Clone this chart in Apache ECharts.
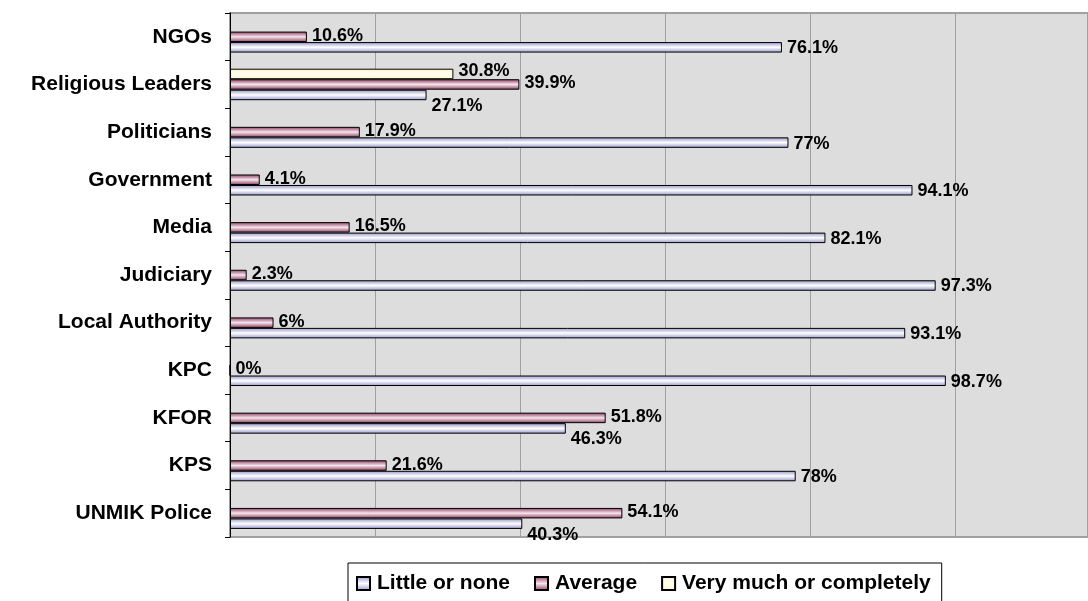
<!DOCTYPE html>
<html>
<head>
<meta charset="utf-8">
<script src="https://cdn.jsdelivr.net/npm/echarts@6/dist/echarts.min.js"></script>
<style>
  html, body { margin: 0; padding: 0; background: #fff; }
  #chart { width: 1088px; height: 601px; }
</style>
</head>
<body>
<div id="chart"></div>
<script>
// categories, top to bottom
var categories = ['NGOs', 'Religious Leaders', 'Politicians', 'Government', 'Media',
  'Judiciary', 'Local Authority', 'KPC', 'KFOR', 'KPS', 'UNMIK Police'];

var littleOrNone = [76.1, 27.1, 77, 94.1, 82.1, 97.3, 93.1, 98.7, 46.3, 78, 40.3];
var average = [10.6, 39.9, 17.9, 4.1, 16.5, 2.3, 6, 0, 51.8, 21.6, 54.1];
var veryMuch = [null, 30.8, null, null, null, null, null, null, null, null, null];

var seriesNames = ['Little or none', 'Average', 'Very much or completely'];

var FONT = 'Liberation Sans, Arial, sans-serif';

function stripe(edge, mid) {
  return new echarts.graphic.LinearGradient(0, 0, 0, 1, [
    {offset: 0, color: edge},
    {offset: 0.5, color: mid},
    {offset: 1, color: edge}
  ]);
}

function barSeries(name, data, fill, layout) {
  return {
    name: name,
    type: 'bar',
    data: data,
    barWidth: 10.5,
    barGap: '0%',
    itemStyle: {
      color: fill,
      borderColor: '#000',
      borderWidth: 1
    },
    label: {
      show: true,
      position: 'right',
      distance: 5,
      color: '#000',
      fontWeight: 'bold',
      fontSize: 18,
      fontFamily: FONT,
      formatter: function (p) { return p.value + '%'; }
    },
    labelLayout: layout
  };
}

var chart = echarts.init(document.getElementById('chart'));

var option = {
  animation: false,
  grid: {
    top: 13,
    bottom: 64,
    left: 230,
    right: 0,
    show: true,
    backgroundColor: '#DDDDDD',
    borderColor: '#A0A0A0',
    borderWidth: 2
  },
  legend: {
    data: seriesNames,
    left: 348,
    top: 563,
    orient: 'horizontal',
    icon: 'rect',
    itemWidth: 13,
    itemHeight: 13,
    itemGap: 24,
    padding: [10, 11, 20, 8],
    borderColor: '#000',
    borderWidth: 1,
    textStyle: {
      color: '#000',
      fontWeight: 'bold',
      fontSize: 21,
      fontFamily: FONT,
      padding: [0, 0, 0, 2]
    }
  },
  xAxis: {
    type: 'value',
    min: 0,
    max: 118.3,   // the plot is cut at the right edge of the picture
    interval: 20,
    axisLine: { show: false },
    axisTick: { show: false },
    axisLabel: { show: false },
    splitLine: { lineStyle: { color: '#A0A0A0', width: 1 } }
  },
  yAxis: {
    type: 'category',
    data: categories,
    inverse: true,
    axisLine: { lineStyle: { color: '#000', width: 1 } },
    axisTick: { show: true, length: 5, lineStyle: { color: '#000' } },
    axisLabel: {
      color: '#000',
      fontWeight: 'bold',
      fontSize: 21,
      fontFamily: FONT,
      margin: 18
    }
  },
  series: [
    barSeries(seriesNames[2], veryMuch, stripe('#FFF4C8', '#FFFFF2'), function () {
      return { dy: -3 };
    }),
    barSeries(seriesNames[1], average, stripe('#8C3A5E', '#F6E6EC'), function () {
      return { dy: -1 };
    }),
    // push the label down when the Average bar above is longer, like the original
    barSeries(seriesNames[0], littleOrNone, stripe('#9494C8', '#FFFFFF'), function (p) {
      return average[p.dataIndex] > littleOrNone[p.dataIndex] ? { dy: 11 } : { dy: 1 };
    })
  ]
};

chart.setOption(option);
</script>
</body>
</html>
